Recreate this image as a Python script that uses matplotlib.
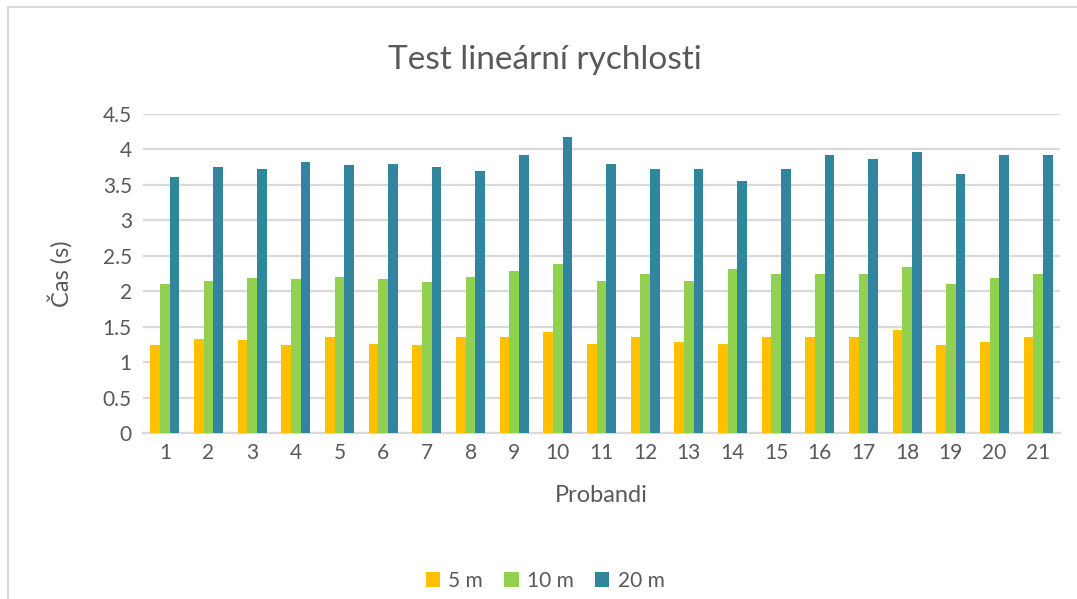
import numpy as np
import matplotlib.pyplot as plt
from matplotlib.patches import Rectangle

plt.rcParams['font.family'] = ['Lato', 'DejaVu Sans']

probandi = [str(i) for i in range(1, 22)]
t5 = [1.24, 1.32, 1.31, 1.24, 1.36, 1.26, 1.24, 1.35, 1.36, 1.43, 1.25,
      1.35, 1.28, 1.26, 1.35, 1.35, 1.35, 1.45, 1.24, 1.29, 1.35]
t10 = [2.10, 2.15, 2.18, 2.17, 2.20, 2.17, 2.13, 2.20, 2.28, 2.39, 2.14,
       2.24, 2.15, 2.32, 2.24, 2.24, 2.24, 2.34, 2.10, 2.18, 2.24]
t20 = [3.61, 3.75, 3.72, 3.82, 3.78, 3.79, 3.75, 3.70, 3.92, 4.17, 3.79,
       3.73, 3.72, 3.55, 3.73, 3.92, 3.87, 3.97, 3.66, 3.92, 3.92]
series = ['5 m', '10 m', '20 m']
colors = ['#FFC000', '#92D050', '#31859C']
text_col = '#595959'

fig = plt.figure(figsize=(10.77, 5.99), dpi=100)
ax = fig.add_axes([143 / 1077, 1 - 433 / 599, (1060 - 143) / 1077, (433 - 114) / 599])

x = np.arange(len(probandi))
w = 0.22
for i, (vals, lab, c) in enumerate(zip([t5, t10, t20], series, colors)):
    ax.bar(x + (i - 1) * w, vals, width=w, color=c, label=lab, zorder=3)

ax.set_ylim(0, 4.5)
ax.set_xlim(-0.5, len(probandi) - 0.5)
ax.set_yticks(np.arange(0, 4.51, 0.5))
ax.set_yticklabels(['0', '0.5', '1', '1.5', '2', '2.5', '3', '3.5', '4', '4.5'])
ax.set_xticks(x)
ax.set_xticklabels(probandi)
ax.tick_params(length=0, labelsize=15, colors=text_col)
ax.tick_params(axis='y', pad=8)
ax.tick_params(axis='x', pad=7)
ax.grid(axis='y', color='#D9D9D9', linewidth=1.6, zorder=0)
for s in ['top', 'right', 'left']:
    ax.spines[s].set_visible(False)
ax.spines['bottom'].set_color('#D9D9D9')
ax.spines['bottom'].set_linewidth(1.6)

ax.set_xlabel('Probandi', fontsize=17, color=text_col, labelpad=16)
ax.set_ylabel('Čas (s)', fontsize=17, color=text_col, labelpad=22)
fig.text(545 / 1077, 1 - 60 / 599, 'Test lineární rychlosti', fontsize=24,
         color=text_col, ha='center', va='center')

fig.legend(loc='center', bbox_to_anchor=(545 / 1077, 1 - 581 / 599), ncol=3,
           frameon=False, fontsize=15, handlelength=0.7, handleheight=0.7,
           handletextpad=0.4, columnspacing=1.0, labelcolor=text_col)

fig.patches.append(Rectangle((8 / 1077, -0.05), 1.1, 1 - 7 / 599 + 0.05,
                             transform=fig.transFigure, fill=False,
                             edgecolor='#D9D9D9', linewidth=1.5))

fig.savefig('out.png', dpi=100)
